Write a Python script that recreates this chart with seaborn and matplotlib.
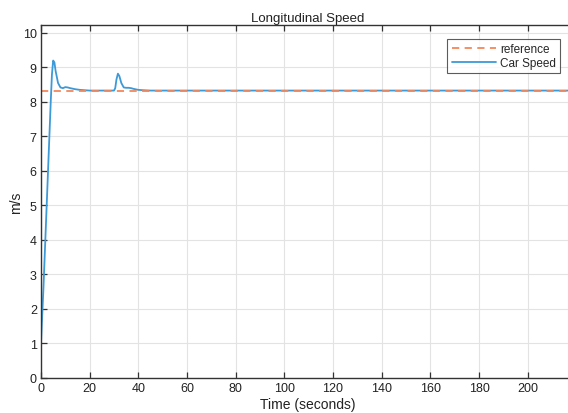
import matplotlib
matplotlib.use("Agg")
import matplotlib.pyplot as plt
import seaborn as sns
import pandas as pd

# Data
time_s = [0, 0.3, 1, 2, 3, 4, 4.5, 5, 5.5, 6, 7, 8, 9, 10, 11, 12, 14, 16, 18, 20, 25,
          30, 30.5, 31, 31.6, 32.2, 33, 34, 35, 36, 37, 38, 40, 42, 45, 50, 60, 219]
car_speed = [1, 1.5, 2.6, 4.4, 6.2, 8.0, 8.8, 9.2, 9.15, 8.9, 8.55, 8.42, 8.40, 8.43, 8.42,
             8.40, 8.37, 8.35, 8.34, 8.33, 8.33,
             8.33, 8.40, 8.65, 8.82, 8.75, 8.55, 8.42, 8.41, 8.41, 8.40, 8.38, 8.35, 8.34,
             8.33, 8.33, 8.33, 8.33]
ref_time = [0, 219]
ref_speed = [8.33, 8.33]

x_ticks = [0, 20, 40, 60, 80, 100, 120, 140, 160, 180, 200]
y_ticks = [0, 1, 2, 3, 4, 5, 6, 7, 8, 9, 10]

sns.set_theme(style="white")
plt.rcParams['font.family'] = ['Liberation Sans', 'DejaVu Sans']

fig = plt.figure(figsize=(5.68, 4.14), dpi=100)
ax = fig.add_axes([41/568, 1 - 379/414, (574 - 41)/568, (379 - 26)/414])

df_car = pd.DataFrame({"t": time_s, "v": car_speed})
df_ref = pd.DataFrame({"t": ref_time, "v": ref_speed})

sns.lineplot(data=df_car, x="t", y="v", ax=ax, color="#3d9ad8", linewidth=1.3,
             label="Car Speed")
sns.lineplot(data=df_ref, x="t", y="v", ax=ax, color="#f4875a", linestyle=(0, (4, 3)),
             linewidth=1.3, label="reference")

ax.set_xlim(0, 219)
ax.set_ylim(0, 10.23)
ax.set_xticks(x_ticks)
ax.set_yticks(y_ticks)
ax.grid(True, color="#e3e3e3", linewidth=0.8)
ax.set_axisbelow(True)

for side in ["left", "bottom", "top"]:
    ax.spines[side].set_color("#333333")
    ax.spines[side].set_linewidth(1.0)
ax.spines["right"].set_visible(False)

ax.tick_params(axis="both", direction="in", length=4, width=0.9, color="#333333",
               labelsize=9, labelcolor="#222222", top=True, bottom=True, left=True, pad=3)

ax.set_xlabel("Time (seconds)", fontsize=10, color="#222222", labelpad=2)
ax.set_ylabel("m/s", fontsize=10, color="#222222")
ax.yaxis.set_label_coords((23 - 41) / 533, 0.5)
ax.set_title("Longitudinal Speed", fontsize=9.5, color="#222222", pad=3)

handles, labels = ax.get_legend_handles_labels()
order = [labels.index("reference"), labels.index("Car Speed")]
leg = ax.legend([handles[i] for i in order], [labels[i] for i in order],
                loc="upper right", fontsize=8.5, frameon=True, fancybox=False,
                handlelength=3.8, borderpad=0.35, labelspacing=0.15, handletextpad=0.3,
                borderaxespad=0)
leg.get_frame().set_edgecolor("#333333")
leg.get_frame().set_linewidth(0.8)
leg.set_bbox_to_anchor((560/568, 1 - 40/414), transform=fig.transFigure)

fig.savefig("out.png", dpi=100)
